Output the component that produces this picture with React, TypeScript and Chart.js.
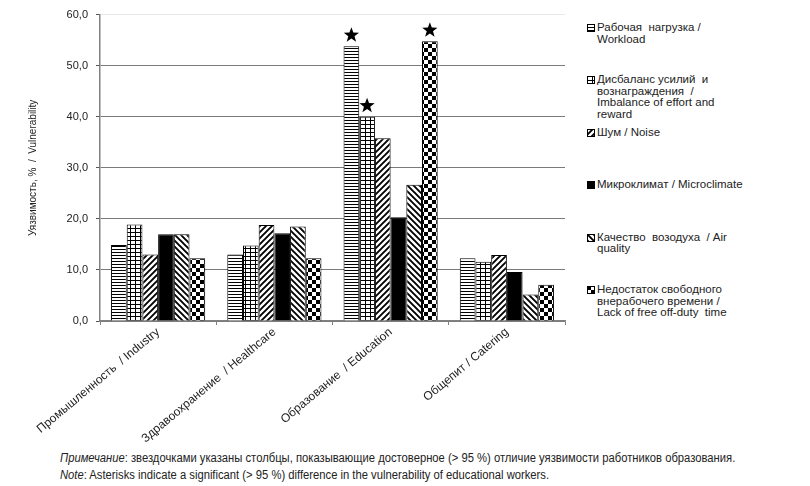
import React, { useEffect, useRef } from 'react';
import { Chart, registerables } from 'chart.js';

Chart.register(...registerables);

// ---------- data ----------
const categories = [
  'Промышленность  / Industry',
  'Здравоохранение  / Healthcare',
  'Образование  / Education',
  'Общепит / Catering',
];

const workload = [14.9, 13.0, 53.8, 12.3];
const imbalance = [18.9, 14.8, 40.0, 11.6];
const noise = [13.0, 18.8, 35.8, 12.9];
const microclimate = [17.0, 17.2, 20.3, 9.6];
const airQuality = [17.0, 18.5, 26.7, 5.2];
const lackOfTime = [12.3, 12.3, 54.8, 7.1];

const seriesLabels: string[][] = [
  ['Рабочая  нагрузка /', 'Workload'],
  ['Дисбаланс усилий  и', 'вознаграждения  /', 'Imbalance of effort and', 'reward'],
  ['Шум / Noise'],
  ['Микроклимат / Microclimate'],
  ['Качество  возодуха  / Air', 'quality'],
  ['Недостаток свободного', 'внерабочего времени /', 'Lack of free off-duty  time'],
];

const seriesValues = [workload, imbalance, noise, microclimate, airQuality, lackOfTime];
const seriesFills = ['hlines', 'grid', 'diagUp', 'solid', 'diagDown', 'checker'];

// [series index, category index] of bars marked with a star
const starMarks: [number, number][] = [[0, 2], [1, 2], [5, 2]];

const yMin = 0;
const yMax = 60;
const yStep = 10;

const yTitle = 'Уязвимость, %  /  Vulnerability';
const noteRuLabel = 'Примечание';
const noteRu = ': звездочками указаны столбцы, показывающие достоверное (> 95 %) отличие уязвимости работников образования.';
const noteEnLabel = 'Note';
const noteEn = ': Asterisks indicate a significant (> 95 %) difference in the vulnerability of educational workers.';

// ---------- patterns ----------
function makeFill(kind: string): CanvasPattern | string {
  if (kind === 'solid') return '#000';
  const c = document.createElement('canvas');
  let w = 6, h = 6;
  if (kind === 'hlines') { w = 4; h = 3; }
  if (kind === 'grid') { w = 5; h = 4; }
  if (kind === 'checker') { w = 8; h = 8; }
  c.width = w; c.height = h;
  const g = c.getContext('2d')!;
  g.fillStyle = '#fff';
  g.fillRect(0, 0, w, h);
  g.fillStyle = '#000';
  g.strokeStyle = '#000';
  if (kind === 'hlines') {
    g.fillRect(0, 0, w, 1);
  } else if (kind === 'grid') {
    g.fillRect(0, 0, w, 1);
    g.fillRect(0, 0, 1, h);
  } else if (kind === 'checker') {
    g.fillRect(0, 0, 4, 4);
    g.fillRect(4, 4, 4, 4);
  } else if (kind === 'diagUp' || kind === 'diagDown') {
    g.lineWidth = 1.9;
    g.beginPath();
    if (kind === 'diagUp') {
      g.moveTo(0, 6); g.lineTo(6, 0);
      g.moveTo(-1, 1); g.lineTo(1, -1);
      g.moveTo(5, 7); g.lineTo(7, 5);
    } else {
      g.moveTo(0, 0); g.lineTo(6, 6);
      g.moveTo(-1, 5); g.lineTo(1, 7);
      g.moveTo(5, -1); g.lineTo(7, 1);
    }
    g.stroke();
  }
  const ctx = document.createElement('canvas').getContext('2d')!;
  return ctx.createPattern(c, 'repeat') as CanvasPattern;
}

function drawStar(ctx: CanvasRenderingContext2D, cx: number, cy: number, R: number, r: number) {
  ctx.beginPath();
  for (let i = 0; i < 10; i++) {
    const ang = -Math.PI / 2 + (i * Math.PI) / 5;
    const rad = i % 2 === 0 ? R : r;
    ctx.lineTo(cx + rad * Math.cos(ang), cy + rad * Math.sin(ang));
  }
  ctx.closePath();
  ctx.fillStyle = '#000';
  ctx.fill();
}

const starPlugin = {
  id: 'starMarks',
  afterDatasetsDraw(chart: any) {
    const ctx = chart.ctx as CanvasRenderingContext2D;
    ctx.save();
    starMarks.forEach(([ds, idx]) => {
      const el = chart.getDatasetMeta(ds).data[idx];
      if (el) drawStar(ctx, el.x, el.y - 11, 8, 3.3);
    });
    ctx.restore();
  },
};

function Swatch({ kind }: { kind: string }) {
  const ref = useRef<HTMLCanvasElement>(null);
  useEffect(() => {
    const c = ref.current;
    if (!c) return;
    const g = c.getContext('2d')!;
    g.fillStyle = makeFill(kind) as any;
    g.fillRect(0, 0, 8, 8);
    g.strokeStyle = '#000';
    g.lineWidth = 1;
    g.strokeRect(0.5, 0.5, 7, 7);
  }, [kind]);
  return <canvas ref={ref} width={8} height={8} style={{ position: 'absolute', left: -10, top: 2 }} />;
}

export default function App() {
  const canvasRef = useRef<HTMLCanvasElement>(null);
  const noteRef = useRef<HTMLDivElement>(null);

  useEffect(() => {
    const canvas = canvasRef.current;
    if (!canvas) return;
    const font = "'Liberation Sans', Arial, sans-serif";
    const chart = new Chart(canvas, {
      type: 'bar',
      data: {
        labels: categories,
        datasets: seriesValues.map((vals, i) => ({
          label: seriesLabels[i].join(' '),
          data: vals,
          backgroundColor: makeFill(seriesFills[i]) as any,
          borderColor: '#000',
          borderWidth: 1,
          categoryPercentage: 0.81,
          barPercentage: 1.0,
        })),
      },
      options: {
        responsive: false,
        animation: false,
        layout: { padding: { left: 27, right: 15, top: 11, bottom: 0 } },
        plugins: {
          legend: { display: false },
          tooltip: { enabled: false },
        },
        scales: {
          x: {
            grid: {
              drawOnChartArea: false,
              drawTicks: true,
              tickLength: 4,
              color: '#808080',
              offset: true,
            },
            border: { color: '#808080', width: 1.5 },
            ticks: {
              minRotation: 40,
              maxRotation: 40,
              autoSkip: false,
              color: '#222',
              padding: 0,
              font: { family: font, size: 12 },
            },
            afterFit: (scale: any) => { scale.height = 129; },
          },
          y: {
            min: yMin,
            max: yMax,
            ticks: {
              stepSize: yStep,
              color: '#222',
              padding: 8,
              font: { family: font, size: 11 },
              callback: (v: any) => Number(v).toFixed(1).replace('.', ','),
            },
            grid: {
              color: (c: any) => (c.tick && c.tick.value === yMax ? '#e8e8e8' : '#7a7a7a'),
              tickColor: '#555',
              tickLength: 4,
              lineWidth: 1,
            },
            border: { color: '#808080', width: 1.5 },
            title: {
              display: true,
              text: yTitle,
              color: '#222',
              padding: 0,
              font: { family: font, size: 10 },
            },
            afterFit: (scale: any) => { scale.width = 73; },
          },
        },
      },
      plugins: [starPlugin],
    });
    return () => chart.destroy();
  }, []);

  useEffect(() => {
    const box = noteRef.current;
    if (!box) return;
    const first = box.firstElementChild as HTMLElement | null;
    if (!first) return;
    const w = first.scrollWidth;
    if (w > 0) {
      const s = 675 / w;
      Array.from(box.children).forEach((el) => {
        (el as HTMLElement).style.transform = `scaleX(${s})`;
      });
    }
  }, []);

  const legendFont = "'Liberation Sans', Arial, sans-serif";
  const noteFont = "'Liberation Sans', Arial, sans-serif";

  return (
    <div style={{ position: 'absolute', left: 0, top: 0, width: 810, height: 486, background: '#fff', overflow: 'hidden' }}>
      <canvas ref={canvasRef} width={580} height={450} style={{ position: 'absolute', left: 0, top: 0 }} />
      <div style={{ position: 'absolute', left: 597, top: 0, width: 210 }}>
        {seriesLabels.map((lines, i) => (
          <div
            key={i}
            style={{
              position: 'absolute',
              left: 0,
              top: 22 + i * 52.4,
              fontFamily: legendFont,
              fontSize: 11.5,
              lineHeight: '11.5px',
              color: '#222',
              whiteSpace: 'pre',
            }}
          >
            <Swatch kind={seriesFills[i]} />
            {lines.map((l, j) => (
              <div key={j}>{l}</div>
            ))}
          </div>
        ))}
      </div>
      <div
        ref={noteRef}
        style={{
          position: 'absolute',
          left: 60,
          top: 450,
          fontFamily: noteFont,
          fontSize: 12.5,
          lineHeight: '17px',
          color: '#222',
          whiteSpace: 'pre',
        }}
      >
        <div style={{ display: 'inline-block', transformOrigin: '0 0' }}><i>{noteRuLabel}</i>{noteRu}</div>
        <br />
        <div style={{ display: 'inline-block', transformOrigin: '0 0' }}><i>{noteEnLabel}</i>{noteEn}</div>
      </div>
    </div>
  );
}
